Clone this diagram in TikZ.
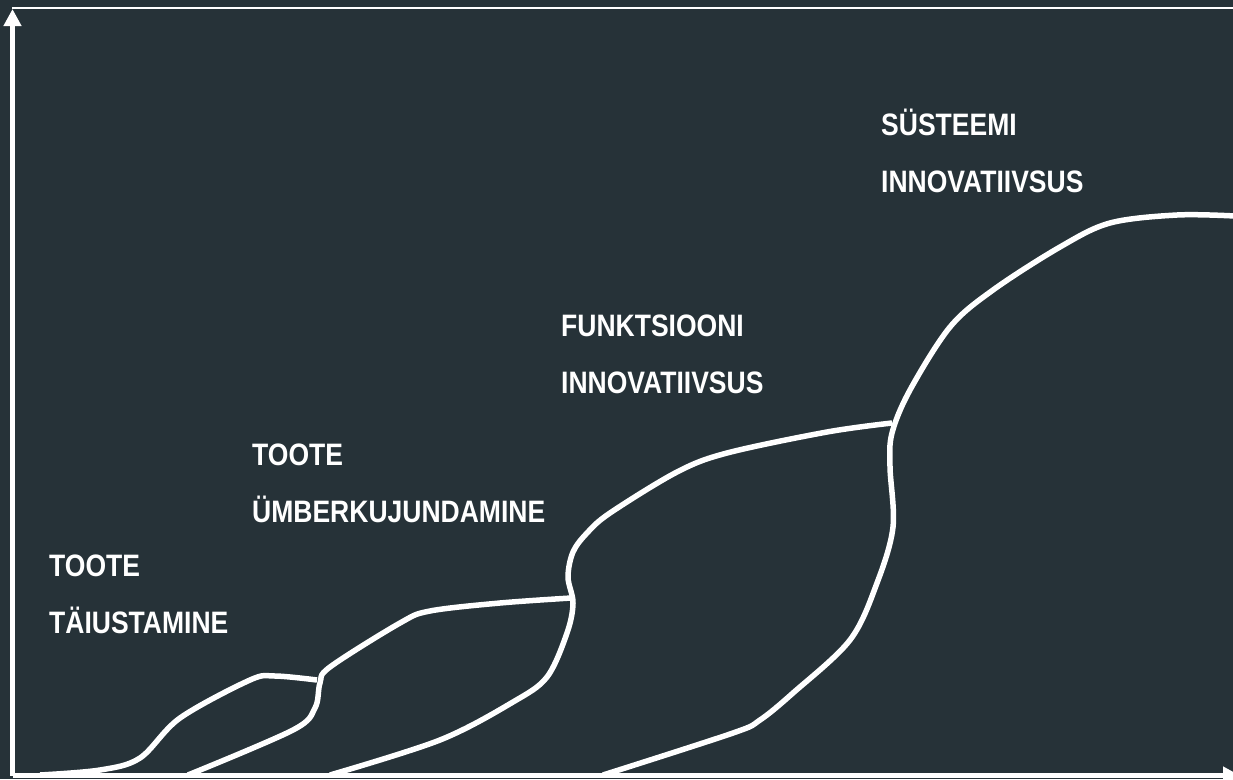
\documentclass[tikz,border=0pt]{standalone}
\usepackage{fontspec}
\setmainfont{Liberation Sans}[FakeStretch=0.855]
\usetikzlibrary{arrows.meta}
\definecolor{bgc}{HTML}{263238}
\begin{document}
\begin{tikzpicture}[x=1pt,y=-1pt,
  curve/.style={draw=white,line width=5.5pt,line cap=butt,line join=round},
  axis/.style={draw=white,line width=5.5pt},
  lbl/.style={text=white,font=\fontsize{31}{57}\selectfont\bfseries,anchor=base west,inner sep=0pt,align=left}]
\fill[bgc] (0,0) rectangle (1233,779);
\useasboundingbox (0,0) rectangle (1233,779);
\clip (0,0) rectangle (1233,779);
% frame line at top
\draw[white,line width=2pt] (12,7.5) -- (1233,7.5);
% axes
\coordinate (o) at (12.5,775.5);
\coordinate (ytop) at (12.5,9);
\coordinate (xend) at (1240,775.5);
\draw[axis,-{Triangle[width=17pt,length=17pt]}] (o) -- (ytop);
\draw[axis,-{Triangle[width=17pt,length=17pt]}] (o) -- (xend);
% curve 1
\draw[curve] plot[smooth,tension=0.55] coordinates {(40,775) (100,770) (140,758) (180,718) (250,680) (275,676) (317,680)};
% curve 2
\draw[curve] plot[smooth,tension=0.55] coordinates {(188,775) (293,730) (315,708) (320,683) (330,667) (400,623) (430,611) (500,603) (571,598)};
% curve 3
\draw[curve] plot[smooth,tension=0.55] coordinates {(330,775) (440,740) (513,702) (547,677) (567,633) (573,603) (568,577) (573,552) (587,533) (610,513) (677,472) (727,453) (827,432) (892,423)};
% curve 4
\draw[curve] plot[smooth,tension=0.55] coordinates {(603,775) (733,733) (760,720) (793,693) (850,640) (877,583) (893,527) (890,467) (892,433) (910,390) (950,327) (993,290) (1060,247) (1110,223) (1177,215) (1235,216)};
% labels (anchored at the baseline of the last line)
\node[lbl] (l1) at (49,633) {TOOTE\\TÄIUSTAMINE};
\node[lbl] (l2) at (252,522) {TOOTE\\ÜMBERKUJUNDAMINE};
\node[lbl] (l3) at (561,393) {FUNKTSIOONI\\INNOVATIIVSUS};
\node[lbl] (l4) at (881,192) {SÜSTEEMI\\INNOVATIIVSUS};
\end{tikzpicture}
\end{document}
